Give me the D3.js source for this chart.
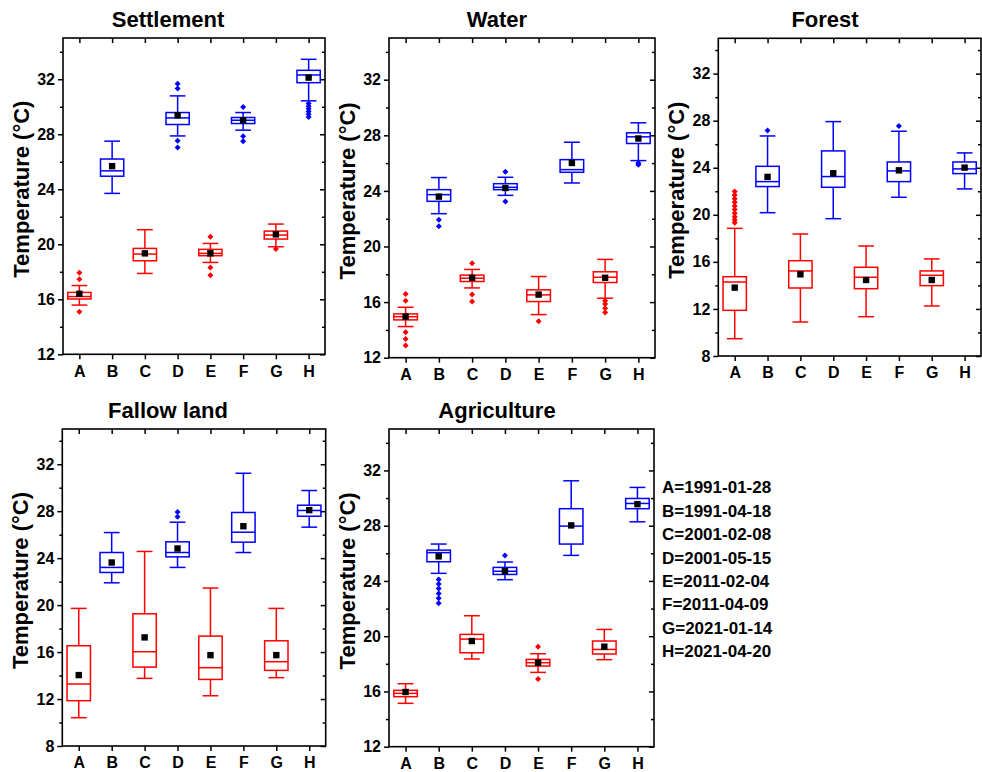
<!DOCTYPE html>
<html>
<head>
<meta charset="utf-8">
<script src="https://cdn.jsdelivr.net/npm/d3@7"></script>
<style>
  body { margin: 0; background: #fff; }
  text { font-family: "Liberation Sans", Arial, sans-serif; font-weight: bold; fill: #000; }
</style>
</head>
<body>
<script>
// categories and their acquisition dates
var categories = ["A", "B", "C", "D", "E", "F", "G", "H"]
var dates = ["1991-01-28", "1991-04-18", "2001-02-08", "2001-05-15",
             "2011-02-04", "2011-04-09", "2021-01-14", "2021-04-20"]

// box stats per category: [lower whisker, Q1, median, Q3, upper whisker, mean]
var settlementBox = [
  [15.58, 16.02, 16.2, 16.5, 17.0, 16.4],
  [23.7, 24.95, 25.34, 26.2, 27.5, 25.68],
  [17.88, 18.8, 19.29, 19.7, 21.06, 19.34],
  [27.88, 28.71, 29.19, 29.58, 30.79, 29.38],
  [18.68, 19.17, 19.34, 19.63, 20.06, 19.34],
  [28.3, 28.78, 29.02, 29.22, 29.58, 29.02],
  [19.82, 20.38, 20.67, 20.96, 21.47, 20.72],
  [30.43, 31.75, 32.31, 32.65, 33.45, 32.12]
]
var settlementOut = [
  [17.93, 17.45, 15.1], [], [], [31.68, 31.32, 27.52, 27.04],
  [20.55, 18.32, 17.74], [29.99, 27.86, 27.5], [19.65],
  [30.23, 30.04, 29.85, 29.65, 29.46, 29.26]
]

var waterBox = [
  [14.24, 14.72, 14.95, 15.15, 15.63, 14.96],
  [22.36, 23.25, 23.73, 24.09, 24.96, 23.59],
  [17.02, 17.48, 17.72, 17.94, 18.35, 17.75],
  [23.68, 24.09, 24.26, 24.52, 24.98, 24.21],
  [15.1, 16.04, 16.52, 16.88, 17.84, 16.54],
  [24.57, 25.34, 25.53, 26.25, 27.5, 26.01],
  [16.28, 17.41, 17.79, 18.18, 19.07, 17.75],
  [26.18, 27.41, 27.89, 28.18, 28.9, 27.77]
]
var waterOut = [
  [16.59, 16.09, 13.83, 13.35, 12.87], [21.93, 21.45], [18.8, 16.54, 16.04],
  [25.37, 23.23], [14.62], [], [16.09, 15.87, 15.56, 15.25], [26.01, 25.89]
]

var forestBox = [
  [9.47, 11.88, 14.29, 14.74, 18.85, 13.81],
  [20.18, 22.4, 22.82, 24.12, 26.7, 23.22],
  [10.89, 13.78, 15.23, 16.1, 18.37, 14.94],
  [19.67, 22.34, 23.25, 25.43, 27.92, 23.53],
  [11.34, 13.72, 14.69, 15.54, 17.35, 14.46],
  [21.49, 22.82, 23.73, 24.49, 27.1, 23.78],
  [12.25, 13.98, 14.86, 15.23, 16.25, 14.46],
  [22.2, 23.5, 23.9, 24.49, 25.26, 24.01]
]
var forestOut = [
  [21.97, 21.69, 21.37, 21.06, 20.75, 20.44, 20.13, 19.84, 19.56, 19.33],
  [27.16], [], [], [], [27.55], [], []
]

var fallowBox = [
  [10.41, 11.86, 13.28, 16.54, 19.72, 14.04],
  [21.9, 22.78, 23.21, 24.48, 26.18, 23.63],
  [13.76, 14.72, 16.03, 19.26, 24.57, 17.25],
  [23.21, 24.11, 24.48, 25.39, 27.06, 24.82],
  [12.28, 13.67, 14.67, 17.36, 21.45, 15.74],
  [24.48, 25.36, 26.21, 27.89, 31.23, 26.72],
  [13.82, 14.44, 15.18, 16.96, 19.72, 15.74],
  [26.64, 27.57, 28.06, 28.51, 29.76, 28.09]
]
var fallowOut = [[], [], [], [27.94, 27.52], [], [], [], []]

var agriBox = [
  [15.14, 15.62, 15.86, 16.08, 16.56, 15.96],
  [24.55, 25.39, 26.05, 26.23, 26.67, 25.78],
  [18.35, 18.8, 19.79, 20.13, 21.48, 19.65],
  [24.09, 24.47, 24.7, 24.98, 25.37, 24.71],
  [17.38, 17.84, 18.08, 18.32, 18.73, 18.08],
  [25.85, 26.67, 27.97, 29.23, 31.25, 28.02],
  [18.3, 18.71, 19.04, 19.65, 20.49, 19.24],
  [28.28, 29.23, 29.61, 29.97, 30.77, 29.56]
]
var agriOut = [[], [24.11, 23.77, 23.45, 23.1, 22.74, 22.38], [], [25.85],
               [19.24, 16.9], [], [], []]

var width = 982
var height = 772
var red = "#ff0000"
var blue = "#0000ff"

// panel frames (plot area) and y range start
var panels = [
  {title: "Settlement", box: settlementBox, out: settlementOut, x0: 63, x1: 325, y0: 38, y1: 354.3, ymin: 12, tx: 168, ty: 26.7},
  {title: "Water", box: waterBox, out: waterOut, x0: 389, x1: 655, y0: 38, y1: 357.7, ymin: 12, tx: 497, ty: 26.7},
  {title: "Forest", box: forestBox, out: forestOut, x0: 718.3, x1: 981, y0: 38.3, y1: 356, ymin: 8, tx: 825, ty: 26.7},
  {title: "Fallow land", box: fallowBox, out: fallowOut, x0: 62.3, x1: 325.7, y0: 429, y1: 746, ymin: 8, tx: 168, ty: 418},
  {title: "Agriculture", box: agriBox, out: agriOut, x0: 389, x1: 654, y0: 429, y1: 746.7, ymin: 12, tx: 497, ty: 418}
]

var svg = d3.select("body").append("svg")
  .attr("width", width)
  .attr("height", height)

var diamond = d3.symbol().type(d3.symbolSquare).size(18)

panels.forEach(function(p) {
  var x = d3.scalePoint().domain(categories).range([p.x0, p.x1]).padding(0.5)
  var y = d3.scaleLinear().domain([p.ymin, 35]).range([p.y1, p.y0])
  var step = x.step()
  var boxW = step * 0.71
  var capW = step * 0.48

  var majors = d3.range(p.ymin, 33, 4)
  var minors = d3.range(p.ymin + 2, 35, 4)

  var g = svg.append("g")

  // axes
  var left = g.append("g").attr("transform", "translate(" + p.x0 + ",0)")
    .call(d3.axisLeft(y).tickValues(majors).tickSize(5).tickPadding(3).tickFormat(d3.format("d")))
  left.append("g").call(d3.axisLeft(y).tickValues(minors).tickSize(3).tickFormat(""))

  var right = g.append("g").attr("transform", "translate(" + p.x1 + ",0)")
    .call(d3.axisRight(y).tickValues(majors).tickSize(-5).tickFormat(""))
  right.append("g").call(d3.axisRight(y).tickValues(minors).tickSize(-3).tickFormat(""))

  g.append("g").attr("transform", "translate(0," + p.y1 + ")")
    .call(d3.axisBottom(x).tickSize(5).tickPadding(6))
  g.append("g").attr("transform", "translate(0," + p.y0 + ")")
    .call(d3.axisTop(x).tickSize(-5).tickFormat(""))

  g.selectAll(".domain").remove()
  g.selectAll(".tick line").attr("stroke", "#000").attr("stroke-width", 1.5)
  g.selectAll(".tick text").style("font-size", "16px").attr("fill", "#000")

  g.append("rect")
    .attr("x", p.x0).attr("y", p.y0)
    .attr("width", p.x1 - p.x0).attr("height", p.y1 - p.y0)
    .attr("fill", "none").attr("stroke", "#000").attr("stroke-width", 1.6)

  // boxes
  var items = g.selectAll(".item")
    .data(p.box)
    .enter()
      .append("g")
      .attr("class", "item")
      .attr("stroke", (d, i) => i % 2 == 0 ? red : blue)
      .attr("stroke-width", 1.5)
      .attr("fill", "none")

  items.append("line")
    .attr("x1", (d, i) => x(categories[i])).attr("x2", (d, i) => x(categories[i]))
    .attr("y1", d => y(d[3])).attr("y2", d => y(d[4]))
  items.append("line")
    .attr("x1", (d, i) => x(categories[i])).attr("x2", (d, i) => x(categories[i]))
    .attr("y1", d => y(d[1])).attr("y2", d => y(d[0]))
  items.append("line")
    .attr("x1", (d, i) => x(categories[i]) - capW / 2).attr("x2", (d, i) => x(categories[i]) + capW / 2)
    .attr("y1", d => y(d[4])).attr("y2", d => y(d[4]))
  items.append("line")
    .attr("x1", (d, i) => x(categories[i]) - capW / 2).attr("x2", (d, i) => x(categories[i]) + capW / 2)
    .attr("y1", d => y(d[0])).attr("y2", d => y(d[0]))
  items.append("rect")
    .attr("x", (d, i) => x(categories[i]) - boxW / 2)
    .attr("width", boxW)
    .attr("y", d => y(d[3]))
    .attr("height", d => y(d[1]) - y(d[3]))
  items.append("line")
    .attr("x1", (d, i) => x(categories[i]) - boxW / 2).attr("x2", (d, i) => x(categories[i]) + boxW / 2)
    .attr("y1", d => y(d[2])).attr("y2", d => y(d[2]))

  // outliers
  p.out.forEach(function(vals, i) {
    g.selectAll(null)
      .data(vals)
      .enter()
        .append("path")
        .attr("d", diamond)
        .attr("transform", d => "translate(" + x(categories[i]) + "," + y(d) + ") rotate(45)")
        .attr("fill", i % 2 == 0 ? red : blue)
  })

  // means
  g.selectAll(".mean")
    .data(p.box)
    .enter()
      .append("rect")
      .attr("class", "mean")
      .attr("x", (d, i) => x(categories[i]) - 3.2)
      .attr("y", d => y(d[5]) - 3.2)
      .attr("width", 6.4).attr("height", 6.4)
      .attr("fill", "#000")

  // titles
  g.append("text")
    .attr("x", p.tx).attr("y", p.ty)
    .attr("text-anchor", "middle")
    .style("font-size", "22px")
    .text(p.title)

  var cy = (p.y0 + p.y1) / 2 - 7
  g.append("text")
    .attr("transform", "translate(" + (p.x0 - 34.5) + "," + cy + ") rotate(-90)")
    .attr("text-anchor", "middle")
    .style("font-size", "22px")
    .text("Temperature (°C)")
})

// date legend
svg.append("g")
  .selectAll("text")
  .data(categories)
  .enter()
    .append("text")
    .attr("x", 662)
    .attr("y", (d, i) => 493.3 + i * 23.4)
    .style("font-size", "17px")
    .text((d, i) => d + "=" + dates[i])
</script>
</body>
</html>
